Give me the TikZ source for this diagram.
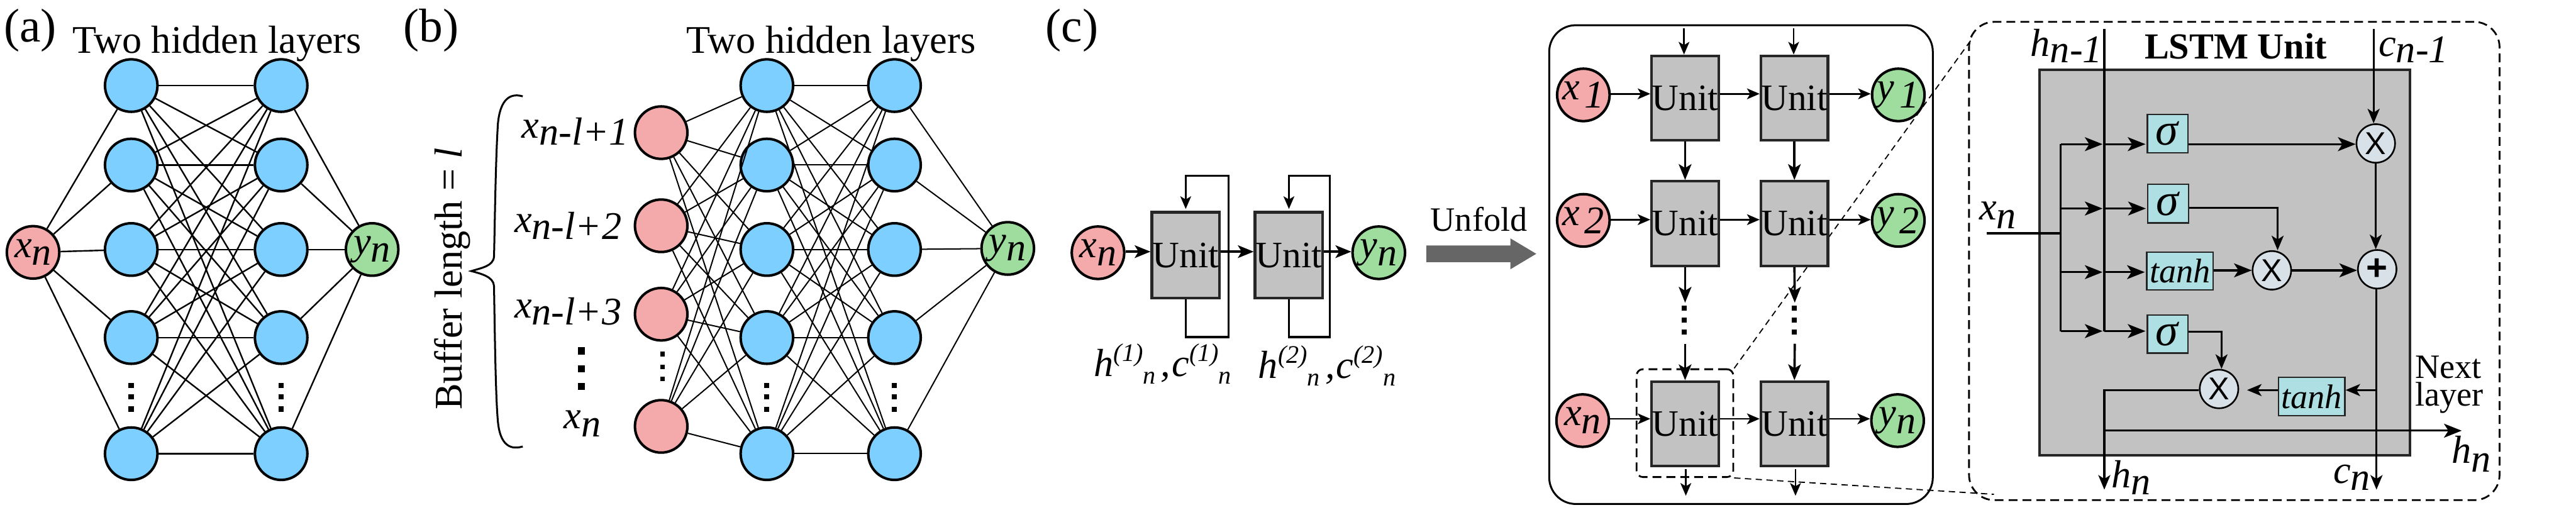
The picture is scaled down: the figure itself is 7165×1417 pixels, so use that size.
\documentclass[tikz,border=0pt]{standalone}
\usepackage{fontspec}
\setmainfont{Liberation Serif}
\newfontfamily\sansf{Liberation Sans}
\usetikzlibrary{arrows.meta}
\definecolor{pinkn}{HTML}{F4A9AB}
\definecolor{bluen}{HTML}{7DCFFF}
\definecolor{greenn}{HTML}{9FDD9F}
\definecolor{unitg}{HTML}{C2C2C2}
\definecolor{edgeg}{HTML}{262626}
\definecolor{tealb}{HTML}{AEDFE3}
\definecolor{opc}{HTML}{D9E1E8}
\definecolor{bigar}{HTML}{666666}
\newcommand\fsz[1]{\fontsize{#1}{#1}\selectfont}
\newcommand\lowlab[3]{\textit{#1}\raisebox{-#3}{\textit{#2}}}
\newcommand\dotsq[3]{\fill (#1-#3,#2-#3) rectangle (#1+#3,#2+#3);}
\newcommand\supsub[4]{\textit{#1}\raisebox{12pt}{\fsz{20}\textit{(#2)}}\raisebox{-6pt}{\fsz{20}\textit{n}}}
\tikzset{
  x=0.01cm,y=-0.01cm,
  nn/.style={circle,draw=black,line width=2pt,minimum size=41.5pt,inner sep=0pt,font=\fsz{31}},
  inn/.style={nn,fill=pinkn},
  hid/.style={nn,fill=bluen},
  outn/.style={nn,fill=greenn},
  edgea/.style={line width=1.2pt},
  edgeb/.style={line width=1pt},
  lab/.style={anchor=base west,inner sep=0pt,outer sep=0pt},
  title/.style={lab,font=\fsz{31}},
  panel/.style={lab,font=\fsz{37.5}},
  unitc/.style={draw=edgeg,fill=unitg,line width=2.2pt,minimum width=53.5pt,minimum height=68pt,inner sep=0pt,font=\fsz{29.5}},
  unitu/.style={draw=edgeg,fill=unitg,line width=2pt,minimum width=53pt,minimum height=67pt,inner sep=0pt,font=\fsz{29.5}},
  thinar/.style={line width=1.4pt,-{Stealth[length=10pt,width=8.5pt,inset=2.5pt]}},
  thickar/.style={line width=1.8pt,-{Stealth[length=12.5pt,width=10pt,inset=3pt]}},
  plainl/.style={line width=1.6pt},
  lar/.style={line width=1.6pt,-{Stealth[length=14pt,width=11pt,inset=3.5pt]}},
  lav/.style={line width=1.6pt,-{Stealth[length=11.5pt,width=9.5pt,inset=3pt]}},
  fn/.style={draw=edgeg,fill=tealb,line width=1.1pt,inner sep=0pt},
  opn/.style={circle,draw=black,fill=opc,line width=1.3pt,minimum size=30.5pt,inner sep=0pt,font=\sansf\fsz{25}},
  seld/.style={draw=black,line width=1.4pt,dash pattern=on 7pt off 4pt,rounded corners=5pt},
  thind/.style={line width=.9pt,dash pattern=on 5pt off 3.5pt}
}
\begin{document}
\begin{tikzpicture}
\useasboundingbox (0,0) rectangle (7165,1417);
% ---------- panel (a)
\node[panel] (pa) at (11,117) {(a)};
\node[title] (ta) at (202,147) {Two hidden layers};
\node[inn] (ax) at (92,702) {\lowlab{x}{n}{6.3pt}};
\node[outn] (ay) at (1035,694) {\lowlab{y}{n}{6pt}};
\foreach \r/\yy in {1/238,2/459,3/694,4/939,5/1262}{
  \node[hid] (aL\r) at (365,\yy) {};
  \node[hid] (aR\r) at (782,\yy) {};
}
\foreach \i in {1,...,5}{
  \draw[edgea] (ax) -- (aL\i);
  \draw[edgea] (aR\i) -- (ay);
  \foreach \j in {1,...,5}{\draw[edgea] (aL\i) -- (aR\j);}
}
\foreach \xx in {365,782}{\dotsq{\xx}{1072}{7.5}\dotsq{\xx}{1104}{7.5}\dotsq{\xx}{1138}{7.5}}
% ---------- panel (b)
\node[panel] (pb) at (1122,117) {(b)};
\node[title] (tb) at (1910,147) {Two hidden layers};
\node[rotate=90,anchor=base,inner sep=0pt,font=\fsz{31}] (buf) at (1285,776) {Buffer length = \textit{l}};
\draw[line width=1.5pt] (1454,268) .. controls (1410,255) and (1390,290) .. (1385,343)
  .. controls (1378,450) and (1376,650) .. (1374,714)
  .. controls (1372,740) and (1340,745) .. (1311,754)
  .. controls (1340,762) and (1372,770) .. (1374,795)
  .. controls (1376,900) and (1378,1100) .. (1385,1174)
  .. controls (1390,1225) and (1410,1255) .. (1454,1242);
\node[title] (l1) at (1451,384) {\lowlab{x}{n-l+1}{5.5pt}};
\node[title] (l2) at (1431,646) {\lowlab{x}{n-l+2}{5.5pt}};
\node[title] (l3) at (1431,885) {\lowlab{x}{n-l+3}{5.5pt}};
\node[title] (l4) at (1569,1192) {\lowlab{x}{n}{6.5pt}};
\foreach \yy in {976,1026,1075}{\dotsq{1617}{\yy}{10}}
\foreach \r/\yy in {1/369,2/628,3/874,4/1186}{\node[inn] (bI\r) at (1839,\yy) {};}
\foreach \r/\yy in {1/238,2/459,3/694,4/939,5/1262}{
  \node[hid] (bL\r) at (2133,\yy) {};
  \node[hid] (bR\r) at (2488,\yy) {};
}
\node[outn] (by) at (2803,691) {\lowlab{y}{n}{6pt}};
\foreach \j in {1,...,5}{
  \foreach \i in {1,...,4}{\draw[edgeb] (bI\i) -- (bL\j);}
  \foreach \i in {1,...,5}{\draw[edgeb] (bL\i) -- (bR\j);}
  \draw[edgeb] (bR\j) -- (by);
}
\foreach \yy in {985,1021,1054}{\dotsq{1843}{\yy}{6.5}}
\foreach \xx in {2133,2488}{\dotsq{\xx}{1072}{7}\dotsq{\xx}{1104}{7}\dotsq{\xx}{1138}{7}}
% ---------- panel (c), folded
\node[panel] (pc) at (2908,117) {(c)};
\node[inn] (cx) at (3054,703) {\lowlab{x}{n}{6.5pt}};
\node[unitc] (cu1) at (3298,710) {Unit};
\node[unitc] (cu2) at (3585,710) {Unit};
\node[outn] (cy) at (3835,703) {\lowlab{y}{n}{6.5pt}};
\draw[line width=1.6pt,-{Stealth[length=10pt,width=8.5pt,inset=2.5pt]}] (cu1.south) -- ++(0,104) -- ++(119,0) -- ++(0,-448) -- ++(-119,0) -- ([yshift=1.5pt]cu1.north);
\draw[line width=1.6pt,-{Stealth[length=10pt,width=8.5pt,inset=2.5pt]}] (cu2.south) -- ++(0,104) -- ++(114,0) -- ++(0,-448) -- ++(-114,0) -- ([yshift=1.5pt]cu2.north);
\draw[thickar] (cx.east |- 0,700) -- (cu1.west |- 0,700);
\draw[thickar] (cu1.east |- 0,700) -- (cu2.west |- 0,700);
\draw[thickar] (cu2.east |- 0,700) -- (cy.west |- 0,700);
\node[lab,font=\fsz{31}] (hc1) at (3043,1047) {\supsub{h}{1}{}{}\hspace{4pt}\textit{,}\hspace{1pt}\supsub{c}{1}{}{}};
\node[lab,font=\fsz{31}] (hc2) at (3500,1052) {\supsub{h}{2}{}{}\hspace{4pt}\textit{,}\hspace{1pt}\supsub{c}{2}{}{}};
\node[lab,font=\fsz{27}] (unf) at (3979,643) {Unfold};
\fill[bigar] (3967,683) -- (4201,683) -- (4201,663) -- (4273,706) -- (4201,749) -- (4201,729) -- (3967,729) -- cycle;
% ---------- frames and zoom lines (behind the units)
\node[draw=black,line width=1.5pt,rounded corners=21pt,minimum width=303.4pt,minimum height=378.7pt,inner sep=0pt] (ufr) at (4842.5,736) {};
\node[seld] (sel) at (4686.5,1177) [minimum width=76.5pt,minimum height=85.3pt,inner sep=0pt] {};
\node[seld,rounded corners=20pt] (lfr) at (6214.5,726) [minimum width=419.6pt,minimum height=378.3pt,inner sep=0pt] {};
\coordinate (zt) at (5484,109);
\coordinate (zb) at (5546,1375);
\draw[thind] (sel.north east) -- (zt);
\draw[thind] (sel.south east) -- (zb);
% ---------- unfolded network
\foreach \r/\yy/\lx/\ly in {1/264/1/1,2/613/2/2,3/1170/n/n}{
  \node[unitu] (U1\r) at (4687,\yy+9) {Unit};
  \node[unitu] (U2\r) at (4991,\yy+9) {Unit};
}
\node[inn] (X1) at (4404,264) {\textit{x}\hspace{4pt}\raisebox{-6.5pt}{\textit{1}}};
\node[inn] (X2) at (4404,613) {\textit{x}\hspace{4pt}\raisebox{-6.5pt}{\textit{2}}};
\node[inn] (X3) at (4402,1170) {\lowlab{x}{n}{6.5pt}};
\node[outn] (Y1) at (5280,264) {\textit{y}\hspace{4pt}\raisebox{-6.5pt}{\textit{1}}};
\node[outn] (Y2) at (5280,613) {\textit{y}\hspace{4pt}\raisebox{-6.5pt}{\textit{2}}};
\node[outn] (Y3) at (5278,1170) {\lowlab{y}{n}{6.5pt}};
\foreach \r/\yy in {1/261,2/611,3/1165}{
  \draw[thinar] (X\r.east |- 0,\yy) -- (U1\r.west |- 0,\yy);
  \draw[thinar] (U1\r.east |- 0,\yy) -- (U2\r.west |- 0,\yy);
  \draw[thinar] (U2\r.east |- 0,\yy) -- (Y\r.west |- 0,\yy);
}
\foreach \c/\xx in {1/4687,2/4992}{
  \coordinate (in\c) at (\xx-3,78);
  \draw[thinar] (in\c) -- (in\c |- U\c1.north);
  \draw[thickar] (U\c1.south) -- (U\c2.north);
  \coordinate (dc\c) at (\xx,842);
  \draw[thickar] (U\c2.south) -- (dc\c);
  \dotsq{\xx-2}{857}{7}\dotsq{\xx-2}{890}{7}\dotsq{\xx-2}{923}{7}
  \coordinate (dd\c) at (\xx,956);
  \draw[thickar] (dd\c) -- (U\c3.north);
  \coordinate (ot\c) at (\xx+2,1379);
  \draw[thinar] (U\c3.south -| ot\c) ++(0,5) -- (ot\c);
}
% ---------- LSTM unit
\node[draw=edgeg,fill=unitg,line width=2pt,minimum width=293pt,minimum height=305pt,inner sep=0pt] (L) at (6188,731) {};
\node[lab,font=\bfseries\fsz{29}] (lt) at (5965,163) {LSTM Unit};
\node[lab,font=\fsz{31}] (lh1) at (5648,157) {\lowlab{h}{n-1}{5pt}};
\node[lab,font=\fsz{31}] (lc1) at (6616,157) {\lowlab{c}{n-1}{5pt}};
\node[lab,font=\fsz{31}] (lxn) at (5505,611) {\lowlab{x}{n}{7pt}};
\node[lab,font=\fsz{27}] (nx1) at (6718,1052) {Next};
\node[lab,font=\fsz{27}] (nx2) at (6718,1130) {layer};
\node[lab,font=\fsz{31}] (hr) at (6819,1288) {\lowlab{h}{n}{7pt}};
\node[lab,font=\fsz{31}] (hl) at (5873,1356) {\lowlab{h}{n}{5.5pt}};
\node[lab,font=\fsz{31}] (cl) at (6490,1344) {\lowlab{c}{n}{5.5pt}};
\node[fn,minimum width=32.2pt,minimum height=30.4pt,font=\fsz{36}] (s1) at (6029.5,371.5) {\textit{σ}};
\node[fn,minimum width=32.2pt,minimum height=30.4pt,font=\fsz{36}] (s2) at (6030.5,566.5) {\textit{σ}};
\node[fn,minimum width=52.6pt,minimum height=29.6pt,font=\fsz{27}] (t1) at (6063.5,754) {\textit{tanh}};
\node[fn,minimum width=32.2pt,minimum height=30.2pt,font=\fsz{36}] (s3) at (6029.5,929) {\textit{σ}};
\node[fn,minimum width=52.4pt,minimum height=30.2pt,font=\fsz{27}] (t2) at (6430,1103) {\textit{tanh}};
\node[opn] (o1) at (6608,399) {X};
\node[opn] (o2) at (6319,752) {X};
\node[opn,font=\sansf\bfseries\fsz{29}] (op) at (6612,749) {+};
\node[opn] (o3) at (6172,1082) {X};
\coordinate (hT) at (5853,81);
\coordinate (cT) at (6602,81);
\coordinate (xS) at (5526,649);
\coordinate (bJ) at (5732,649);
\coordinate (b1) at (5732,401);
\coordinate (b2) at (5732,580);
\coordinate (b3) at (5732,757);
\coordinate (b4) at (5732,921);
\draw[plainl] (xS) -- (bJ);
\draw[plainl] (b1) -- (b4);
\draw[plainl] (hT) -- (hT |- b4);
\draw[lav] (cT) -- (o1.north -| cT);
\foreach \b/\t in {b1/s1,b2/s2,b3/t1,b4/s3}{
  \draw[lar] (\b) -- ([xshift=-1.4pt]hT |- \b);
  \draw[lar] (hT |- \b) -- ([xshift=-1pt]\t.west |- \b);
}
\draw[lar] (s1.east |- b1) -- (o1.west |- b1);
\coordinate (a2) at (6335,578);
\draw[lav] (s2.east |- a2) -- (a2) -- (a2 |- o2.north);
\draw[lar] (t1.east |- o2) -- (o2.west);
\draw[lar] (o2.east) -- (op.west |- o2);
\draw[lav] (o1.south) -- (o1.south |- op.north);
\coordinate (cE) at (6610,1362);
\draw[lav] (cE |- op.south) -- (cE);
\coordinate (tB) at (6610,1085);
\draw[lav] (tB) -- (t2.east |- tB);
\coordinate (x3t) at (6250,1085);
\draw[lav] (t2.west |- tB) -- (x3t);
\coordinate (a3) at (6179,923);
\draw[lav] (s3.east |- a3) -- (a3) -- (a3 |- o3.north);
\coordinate (hE) at (5853,1362);
\coordinate (nE) at (6847,1198);
\draw[lav] (o3.west |- 0,1085) -- (hE |- 0,1085) -- (hE);
\draw[lar] (hE |- nE) -- (nE);
\end{tikzpicture}
\end{document}
